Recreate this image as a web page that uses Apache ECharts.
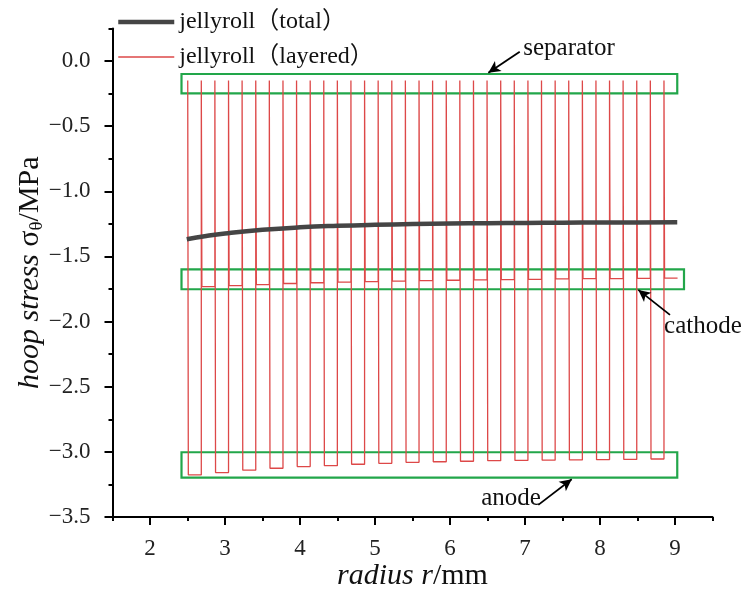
<!DOCTYPE html>
<html><head><meta charset="utf-8">
<script src="https://cdn.jsdelivr.net/npm/echarts@6/dist/echarts.min.js"></script>
<style>html,body{margin:0;padding:0;background:#fff}#c{width:745px;height:591px}</style>
</head><body><div id="c"></div>
<script>
// ---- data ----
const seriesNames = ['jellyroll（total）', 'jellyroll（layered）'];
const totalR      = [2.49, 2.75, 3.0, 3.5, 4.0, 4.5, 5.0, 5.5, 6.0, 6.5, 7.0, 7.5, 8.0, 8.5, 9.03];
const totalStress = [-1.368, -1.343, -1.324, -1.296, -1.277, -1.265, -1.257, -1.252, -1.248, -1.245, -1.243, -1.241, -1.240, -1.239, -1.238];

// layered jellyroll: anode / separator / cathode / separator ...
const anodeFrom   = [2.511, 2.874, 3.237, 3.600, 3.963, 4.325, 4.688, 5.051, 5.414, 5.777, 6.140, 6.503, 6.866, 7.229, 7.592, 7.954, 8.317, 8.680];
const cathodeFrom = [2.692, 3.055, 3.418, 3.781, 4.144, 4.506, 4.869, 5.232, 5.595, 5.958, 6.321, 6.684, 7.047, 7.410, 7.773, 8.135, 8.498, 8.861];
const electrodeThickness = 0.173;
const separatorThickness = 0.008;
const separatorStress = -0.15;
const anodeStress   = [-3.177, -3.159, -3.141, -3.126, -3.113, -3.106, -3.095, -3.088, -3.080, -3.076, -3.072, -3.068, -3.066, -3.064, -3.062, -3.060, -3.058, -3.055];
const cathodeStress = [-1.732, -1.724, -1.716, -1.708, -1.702, -1.697, -1.693, -1.689, -1.686, -1.683, -1.680, -1.678, -1.676, -1.673, -1.671, -1.670, -1.668, -1.667];

// annotations (data coordinates)
const boxNames = ['separator', 'cathode', 'anode'];
const boxes = [[[2.42, -0.10], [9.03, -0.248]], [[2.42, -1.599], [9.12, -1.752]], [[2.42, -3.003], [9.03, -3.198]]];
const arrows = [[[6.93, 0.071], [6.511, -0.090]], [[8.933, -1.949], [8.511, -1.757]], [[7.177, -3.407], [7.623, -3.210]]];
const labelAt = [[7.587, 0.10], [9.373, -2.041], [6.813, -3.36]];

// axes: full extent + labelled range
const xMin = 1.5, xMax = 9.5, xMinorStep = 0.5;
const xLabelMin = 2, xLabelMax = 9, xStep = 1;
const yMin = -3.5, yMax = 0.25, yMinorStep = 0.25;
const yLabelMin = -3.5, yLabelMax = 0, yStep = 0.5;

// ---- build layered polyline ----
const layered = [];
layered.push([anodeFrom[0] - separatorThickness, separatorStress]);
for (let k = 0; k < anodeFrom.length; k++) {
  const a0 = anodeFrom[k], a1 = a0 + electrodeThickness;
  const c0 = cathodeFrom[k], c1 = c0 + electrodeThickness;
  layered.push([a0, separatorStress], [a0, anodeStress[k]], [a1, anodeStress[k]], [a1, separatorStress]);
  layered.push([c0, separatorStress], [c0, cathodeStress[k]], [c1, cathodeStress[k]]);
  if (k < anodeFrom.length - 1) layered.push([c1, separatorStress]);
}
const total = totalR.map((r, i) => [r, totalStress[i]]);

const FONT = '"Liberation Serif", "DejaVu Serif", "Noto Sans CJK SC", serif';
const green = '#22a64a';
const RED = '#dd4848', GREY = '#454545';

// main plot box (pixels)
const W = 745, H = 591, G = { left: 112.5, right: 32.5, top: 28.4, bottom: 74 };
const pxX = (W - G.left - G.right) / (xMax - xMin);
const pxY = (H - G.top - G.bottom) / (yMax - yMin);
const G2 = {
  left: G.left + (xLabelMin - xMin) * pxX,
  right: G.right + (xMax - xLabelMax) * pxX,
  top: G.top + (yMax - yLabelMax) * pxY,
  bottom: G.bottom
};

const tickLine = { color: '#000', width: 2 };
const chart = echarts.init(document.getElementById('c'));
chart.setOption({
  backgroundColor: '#fff',
  animation: false,
  grid: [
    Object.assign({ outerBoundsMode: 'none', containLabel: false }, G),
    Object.assign({ outerBoundsMode: 'none', containLabel: false }, G2)
  ],
  legend: {
    data: [
      { name: seriesNames[0], lineStyle: { width: 4.5, color: GREY } },
      { name: seriesNames[1], lineStyle: { width: 1.3, color: RED } }
    ],
    orient: 'vertical', left: 116, top: 10, padding: 0,
    itemWidth: 56, itemHeight: 14, itemGap: 11,
    itemStyle: { opacity: 0 },
    textStyle: { fontFamily: FONT, fontSize: 24, color: '#111', lineHeight: 24 }
  },
  xAxis: [
    {
      gridIndex: 0, type: 'value', min: xMin, max: xMax, interval: xMinorStep,
      name: '{i|radius r}/mm', nameLocation: 'middle', nameGap: 44,
      nameTextStyle: { fontFamily: FONT, fontSize: 30, color: '#111', rich: { i: { fontFamily: FONT, fontSize: 30, fontStyle: 'italic', color: '#111' } } },
      axisLine: { show: true, onZero: false, lineStyle: { color: '#000', width: 2 } },
      axisTick: { show: true, inside: false, length: 4, lineStyle: tickLine },
      axisLabel: { show: false }, splitLine: { show: false }
    },
    {
      gridIndex: 1, type: 'value', min: xLabelMin, max: xLabelMax, interval: xStep,
      axisLine: { show: false, onZero: false },
      axisTick: { show: true, inside: false, length: 8, lineStyle: tickLine },
      axisLabel: { margin: 20, fontFamily: FONT, fontSize: 23, color: '#222' },
      splitLine: { show: false }
    }
  ],
  yAxis: [
    {
      gridIndex: 0, type: 'value', min: yMin, max: yMax, interval: yMinorStep,
      name: '{i|hoop stress} σ{s|θ}/MPa', nameLocation: 'middle', nameGap: 66, nameRotate: 90,
      nameTextStyle: { fontFamily: FONT, fontSize: 30, color: '#111',
        rich: { i: { fontFamily: FONT, fontSize: 30, fontStyle: 'italic', color: '#111' },
                s: { fontFamily: FONT, fontSize: 19, color: '#111', verticalAlign: 'bottom', padding: [14, 0, 0, 0] } } },
      axisLine: { show: true, onZero: false, lineStyle: { color: '#000', width: 2 } },
      axisTick: { show: true, inside: false, length: 4, lineStyle: tickLine },
      axisLabel: { show: false }, splitLine: { show: false }
    },
    {
      gridIndex: 1, type: 'value', min: yLabelMin, max: yLabelMax, interval: yStep,
      position: 'left', offset: G2.left - G.left,
      axisLine: { show: false, onZero: false },
      axisTick: { show: true, inside: false, length: 8, lineStyle: tickLine },
      axisLabel: { margin: 22, fontFamily: FONT, fontSize: 23, color: '#222',
        formatter: v => (v < 0 ? '−' : '') + Math.abs(v).toFixed(1) },
      splitLine: { show: false }
    }
  ],
  series: [
    {
      name: seriesNames[1], type: 'line', xAxisIndex: 0, yAxisIndex: 0, data: layered, showSymbol: false, symbol: 'none',
      lineStyle: { color: RED, width: 1.3 }, itemStyle: { color: RED }, z: 2, silent: true
    },
    {
      name: seriesNames[0], type: 'line', xAxisIndex: 0, yAxisIndex: 0, data: total, showSymbol: false, symbol: 'none', smooth: true,
      lineStyle: { color: GREY, width: 4.5 }, itemStyle: { color: GREY }, z: 3, silent: true,
      markArea: {
        silent: true,
        itemStyle: { color: 'rgba(0,0,0,0)', borderColor: green, borderWidth: 2.2 },
        label: { show: false },
        data: boxes.map(b => [{ coord: b[0] }, { coord: b[1] }])
      },
      markLine: {
        silent: true, symbol: ['none', 'arrow'], symbolSize: [9, 12],
        lineStyle: { color: '#000', width: 1.8, type: 'solid' }, label: { show: false },
        data: arrows.map(a => [{ coord: a[0] }, { coord: a[1] }])
      },
      markPoint: {
        silent: true, symbol: 'circle', symbolSize: 1, itemStyle: { color: 'rgba(0,0,0,0)' },
        label: { show: true, position: 'inside', formatter: '{b}', fontFamily: FONT, fontSize: 25, color: '#111' },
        data: labelAt.map((p, i) => ({ name: boxNames[i], coord: p }))
      }
    }
  ]
});
</script></body></html>
